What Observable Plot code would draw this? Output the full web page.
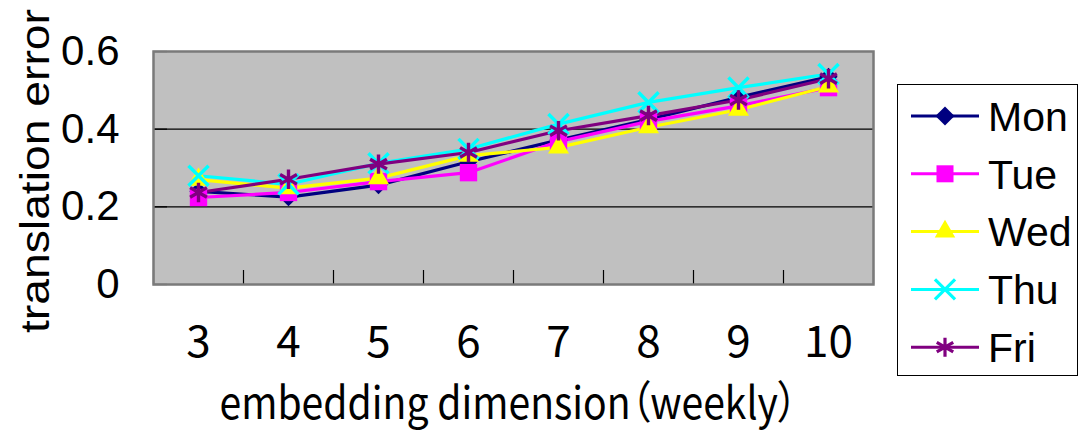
<!DOCTYPE html>
<html>
<head>
<meta charset="utf-8">
<script src="https://cdn.jsdelivr.net/npm/d3@7"></script>
<script src="https://cdn.jsdelivr.net/npm/@observablehq/plot@0.6"></script>
<style>
  html, body { margin: 0; padding: 0; background: #fff; }
  #wrap { position: relative; width: 1080px; height: 433px; }
  #legend { position: absolute; left: 897px; top: 84px; width: 179px; height: 290px;
            border: 1.5px solid #000; background: #fff; }
  #legend svg { position: absolute; left: 0; top: 0; }
</style>
</head>
<body>
<div id="wrap"></div>
<script>
// ---- data ----
const dims = [3, 4, 5, 6, 7, 8, 9, 10];
const days = ["Mon", "Tue", "Wed", "Thu", "Fri"];
const mon = [0.240, 0.225, 0.256, 0.316, 0.372, 0.425, 0.482, 0.535];
const tue = [0.224, 0.237, 0.265, 0.288, 0.368, 0.420, 0.460, 0.507];
const wed = [0.270, 0.248, 0.274, 0.332, 0.353, 0.405, 0.450, 0.510];
const thu = [0.280, 0.258, 0.312, 0.349, 0.413, 0.469, 0.507, 0.542];
const fri = [0.237, 0.271, 0.310, 0.340, 0.396, 0.435, 0.475, 0.530];
const yTicks = [0, 0.2, 0.4, 0.6];
const yTitle = "translation error";
const xTitle = "embedding dimension（weekly）";

// ---- styling ----
const colors = ["#000080", "#ff00ff", "#ffff00", "#00ffff", "#800080"];
const symbols = ["diamond2", "square", "triangle", "times", "asterisk"];
const symR = [8.2, 9.8, 7.8, 9.2, 9.2];
const filled = [true, true, true, false, false];

const seriesVals = [mon, tue, wed, thu, fri];
const rows = [];
days.forEach((d, i) => dims.forEach((x, j) => rows.push({day: d, idx: i, x, y: seriesVals[i][j]})));
const bounds = [dims[0] - 0.5, ...dims.map(d => d + 0.5)];

const latin = "Liberation Sans, Arial, sans-serif";
const cjk = "Noto Sans CJK JP, sans-serif";

const marks = [
  Plot.frame({fill: "#c0c0c0"}),
  Plot.ruleY(yTicks.filter(v => v > 0 && v < 0.6), {stroke: "#000", strokeWidth: 1.2}),
  Plot.axisY({ticks: yTicks, tickSize: 0, tickPadding: 34, tickFormat: d => d === 0 ? "0" : d.toFixed(1),
              fontSize: 42, fontFamily: latin, label: null}),
  Plot.axisY({ticks: yTicks, tickSize: -14, tickFormat: () => "", label: null, stroke: "#000", strokeWidth: 1.2}),
  Plot.axisX({ticks: dims, tickSize: 0, tickPadding: 41, tickFormat: d => String(d),
              fontSize: 44, fontFamily: cjk, label: null}),
  Plot.axisX({ticks: bounds, tickSize: -14, tickFormat: () => "", label: null, stroke: "#000", strokeWidth: 1.2}),
  Plot.frame({stroke: "#7a7a7a", strokeWidth: 2.5}),
];
days.forEach((d, i) => {
  marks.push(Plot.line(rows.filter(r => r.idx === i), {x: "x", y: "y", stroke: colors[i], strokeWidth: 3.2}));
});
days.forEach((d, i) => {
  const opts = {x: "x", y: "y", symbol: () => symbols[i], r: symR[i]};
  if (filled[i]) { opts.fill = colors[i]; opts.stroke = "none"; }
  else { opts.fill = "none"; opts.stroke = colors[i]; opts.strokeWidth = 3.4; }
  marks.push(Plot.dot(rows.filter(r => r.idx === i), opts));
});
marks.push(Plot.text([yTitle], {frameAnchor: "left", textAnchor: "middle", rotate: -90, dx: -117, dy: 3,
  fontSize: 40, fontFamily: latin, fill: "#000", className: "ytitle"}));
marks.push(Plot.text([xTitle], {frameAnchor: "bottom", textAnchor: "middle", dy: 134, dx: -5,
  fontSize: 45, fontFamily: cjk, fill: "#000", className: "xtitle"}));

const chart = Plot.plot({
  width: 1080,
  height: 433,
  marginLeft: 153,
  marginRight: 207,
  marginTop: 51,
  marginBottom: 149,
  style: {background: "#fff", color: "#000", overflow: "visible"},
  x: {type: "linear", domain: [dims[0] - 0.5, dims[dims.length - 1] + 0.5]},
  y: {domain: [0, 0.6]},
  symbol: {type: "identity"},
  marks
});
const wrap = document.getElementById("wrap");
wrap.appendChild(chart);
d3.select(chart).selectAll(".ytitle text")
  .attr("textLength", 324).attr("lengthAdjust", "spacingAndGlyphs");
d3.select(chart).selectAll(".xtitle text")
  .style("font-feature-settings", "'palt'")
  .attr("textLength", 578).attr("lengthAdjust", "spacingAndGlyphs");

// ---- legend ----
const legend = document.createElement("div");
legend.id = "legend";
wrap.appendChild(legend);
const lsvg = d3.select(legend).append("svg").attr("width", 179).attr("height", 290);
const symMap = {diamond2: d3.symbolDiamond2, square: d3.symbolSquare, triangle: d3.symbolTriangle,
                times: d3.symbolTimes, asterisk: d3.symbolAsterisk};
const lSize = [8.6, 9.6, 7.6, 9.2, 9.0];
days.forEach((d, i) => {
  const cy = 31 + i * 57.8;
  const g = lsvg.append("g").attr("transform", `translate(0,${cy})`);
  g.append("line").attr("x1", 13).attr("x2", 81).attr("y1", 0).attr("y2", 0)
    .attr("stroke", colors[i]).attr("stroke-width", 3);
  const p = g.append("path").attr("transform", "translate(47,0)")
    .attr("d", d3.symbol(symMap[symbols[i]], Math.PI * lSize[i] * lSize[i])());
  if (filled[i]) p.attr("fill", colors[i]);
  else p.attr("fill", "none").attr("stroke", colors[i]).attr("stroke-width", 3.2);
  g.append("text").attr("x", 90).attr("y", 0).attr("dy", "0.36em")
    .attr("font-family", latin).attr("font-size", 41).attr("fill", "#000").text(d);
});
</script>
</body>
</html>
